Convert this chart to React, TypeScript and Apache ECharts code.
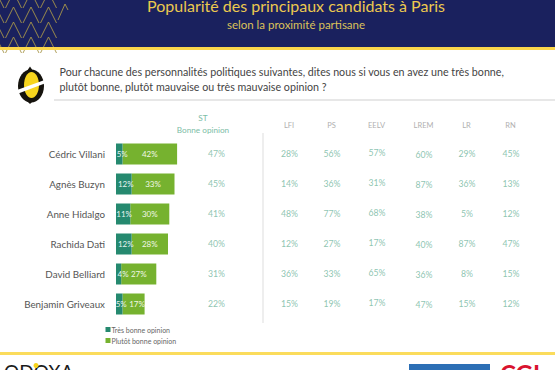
import React, { useEffect, useRef } from "react";
import * as echarts from "echarts";

const candidates = ["Cédric Villani", "Agnès Buzyn", "Anne Hidalgo", "Rachida Dati", "David Belliard", "Benjamin Griveaux"];
const tresBonne = [5, 12, 11, 12, 4, 5];
const plutotBonne = [42, 33, 30, 28, 27, 17];
const st = [47, 45, 41, 40, 31, 22];
const lfi = [28, 14, 48, 12, 36, 15];
const ps = [56, 36, 77, 27, 33, 19];
const eelv = [57, 31, 68, 17, 65, 17];
const lrem = [60, 87, 38, 40, 36, 47];
const lr = [29, 36, 5, 87, 8, 15];
const rn = [45, 13, 12, 47, 15, 12];
const columnNames = ["ST", "LFI", "PS", "EELV", "LREM", "LR", "RN"];

const FONT = "Lato";
const columns = [
  { name: "ST", x: 216.5, values: st, dy: -1 },
  { name: "LFI", x: 289.5, values: lfi, dy: -1 },
  { name: "PS", x: 332, values: ps, dy: -1 },
  { name: "EELV", x: 377, values: eelv, dy: -2 },
  { name: "LREM", x: 424, values: lrem, dy: 0 },
  { name: "LR", x: 467, values: lr, dy: -1 },
  { name: "RN", x: 511, values: rn, dy: -1 },
];

function chevrons() {
  const out: any[] = [];
  const stroke = { stroke: "#a8964a", lineWidth: 0.9, fill: "none" };
  for (let col = 0; col < 4; col++) {
    const cx = -4 + col * 17.5;
    for (let row = 0; row < 4; row++) {
      const top = -8 + row * 15;
      out.push({
        type: "polyline",
        silent: true,
        shape: { points: [[cx - 8, top + 16], [cx, top], [cx + 8, top + 16]] },
        style: stroke,
      });
    }
  }
  out.push({ type: "polyline", silent: true, shape: { points: [[58, 20], [65, 4], [68, 10]] }, style: stroke });
  return out;
}

export default function App() {
  const ref = useRef<HTMLDivElement>(null);
  useEffect(() => {
    const chart = echarts.init(ref.current!, null, { renderer: "svg", width: 555, height: 370 });
    const text = (t: string, x: number, y: number, size: number, fill: string, align = "center", extra: any = {}) => ({
      type: "text",
      x,
      y,
      silent: true,
      style: { text: t, fontSize: size, fontFamily: FONT, fill, align, verticalAlign: "middle", ...extra },
    });
    const scatterColumns = columns.map((c) => ({
      type: "scatter" as const,
      name: c.name,
      xAxisIndex: 1,
      yAxisIndex: 1,
      symbolSize: 0,
      silent: true,
      data: c.values.map((v, i) => [c.x, candidates[i], v]),
      label: {
        show: true,
        position: "inside" as const,
        offset: [0, c.dy],
        formatter: (p: any) => `${p.value[2]}%`,
        color: "#6fb59c",
        fontSize: 8.7,
        fontFamily: FONT,
      },
    }));
    const darkShift = [3, 2, 1, 2, 4.5, 2];
    const lightShift = [0, 0, 0, 0, 0, 3.5];
    chart.setOption({
      animation: false,
      backgroundColor: "#ffffff",
      grid: [
        { left: 116, top: 139, width: 130, height: 180 },
        { left: 0, top: 139, width: 555, height: 180 },
      ],
      xAxis: [
        { type: "value", gridIndex: 0, min: 0, max: 100, show: false },
        { type: "value", gridIndex: 1, min: 0, max: 555, show: false },
      ],
      yAxis: [
        {
          type: "category",
          gridIndex: 0,
          data: candidates,
          inverse: true,
          axisLine: { show: false },
          axisTick: { show: false },
          axisLabel: { color: "#555555", fontSize: 9.8, fontFamily: FONT, margin: 11 },
        },
        { type: "category", gridIndex: 1, data: candidates, inverse: true, show: false },
      ],
      legend: {
        data: ["Très bonne opinion", "Plutôt bonne opinion"],
        orient: "vertical",
        left: 100.5,
        top: 321,
        itemWidth: 5,
        itemHeight: 5,
        itemGap: 4,
        icon: "rect",
        textStyle: { color: "#666666", fontSize: 7, fontFamily: FONT, padding: [0, 0, 0, -4] },
        selectedMode: false,
      },
      series: [
        {
          type: "bar",
          name: "Très bonne opinion",
          stack: "a",
          data: tresBonne.map((v, i) => ({ value: v, label: { offset: [darkShift[i], 0] } })),
          barWidth: 21,
          itemStyle: { color: "#25896f" },
          z: 2,
          label: { show: true, position: "inside", formatter: "{c}%", color: "#e8f3ee", fontSize: 8, fontFamily: FONT },
        },
        {
          type: "bar",
          name: "Plutôt bonne opinion",
          stack: "a",
          data: plutotBonne.map((v, i) => ({ value: v, label: { offset: [lightShift[i], 0] } })),
          barWidth: 21,
          itemStyle: { color: "#76b22f" },
          z: 1,
          label: { show: true, position: "inside", formatter: "{c}%", color: "#f1f7e6", fontSize: 8, fontFamily: FONT },
        },
        ...scatterColumns,
      ],
      graphic: [
        { type: "rect", silent: true, shape: { x: 0, y: 0, width: 555, height: 47 }, style: { fill: "#1a215e" } },
        ...chevrons(),
        { type: "rect", silent: true, shape: { x: 0, y: 47, width: 555, height: 3 }, style: { fill: "#fbd64b" } },
        { type: "rect", silent: true, shape: { x: 0, y: 352, width: 555, height: 3 }, style: { fill: "#fbdc5c" } },
        text("Popularité des principaux candidats à Paris", 296, 5, 16, "#ecc94f"),
        text("selon la proximité partisane", 296, 24, 11.5, "#dcc25a"),
        { type: "polygon", silent: true, shape: { points: [[27, 71], [30, 66.5], [33, 71], [33, 101], [30, 104], [27, 101]] }, style: { fill: "#15130d" } },
        { type: "ellipse", silent: true, shape: { cx: 31, cy: 86, rx: 13, ry: 16.5 }, style: { fill: "#15130d" } },
        { type: "ellipse", silent: true, shape: { cx: 31.5, cy: 85, rx: 7.5, ry: 13 }, style: { fill: "#f7d51e" } },
        { type: "polygon", silent: true, shape: { points: [[17, 90], [46, 79.5], [46, 83], [17, 94]] }, style: { fill: "#ffffff" } },
        text("Pour chacune des personnalités politiques suivantes, dites nous si vous en avez une très bonne,", 59.5, 71.5, 10.7, "#444444", "left"),
        text("plutôt bonne, plutôt mauvaise ou très mauvaise opinion ?", 59.5, 86.5, 10.7, "#444444", "left"),
        { type: "line", silent: true, shape: { x1: 54, y1: 100, x2: 555, y2: 100 }, style: { stroke: "#cfcfcf", lineWidth: 1 } },
        { type: "rect", silent: true, shape: { x: 262, y: 133, width: 2, height: 190 }, style: { fill: "#eeeeee" } },
        text(columnNames[0], 203, 118, 8.2, "#7dbda6"),
        text("Bonne opinion", 203, 129.5, 8.2, "#7dbda6"),
        ...columns.slice(1).map((c) => text(c.name, c.x - 0.5, 125.5, 7.5, "#b0b0b0")),
        text("ODOXA", 4, 371.5, 19, "#1b1b1b", "left", { letterSpacing: 0.5 }),
        { type: "circle", silent: true, shape: { cx: 36, cy: 365.5, r: 2.5 }, style: { fill: "#f7d51e" } },
        { type: "rect", silent: true, shape: { x: 409, y: 364, width: 81, height: 6 }, style: { fill: "#2c6fb5" } },
        text("CGI", 500, 373, 24, "#d9142f", "left", { fontWeight: "bold" }),
      ],
    });
    return () => chart.dispose();
  }, []);
  return <div ref={ref} style={{ position: "fixed", left: 0, top: 0, width: 555, height: 370 }} />;
}
